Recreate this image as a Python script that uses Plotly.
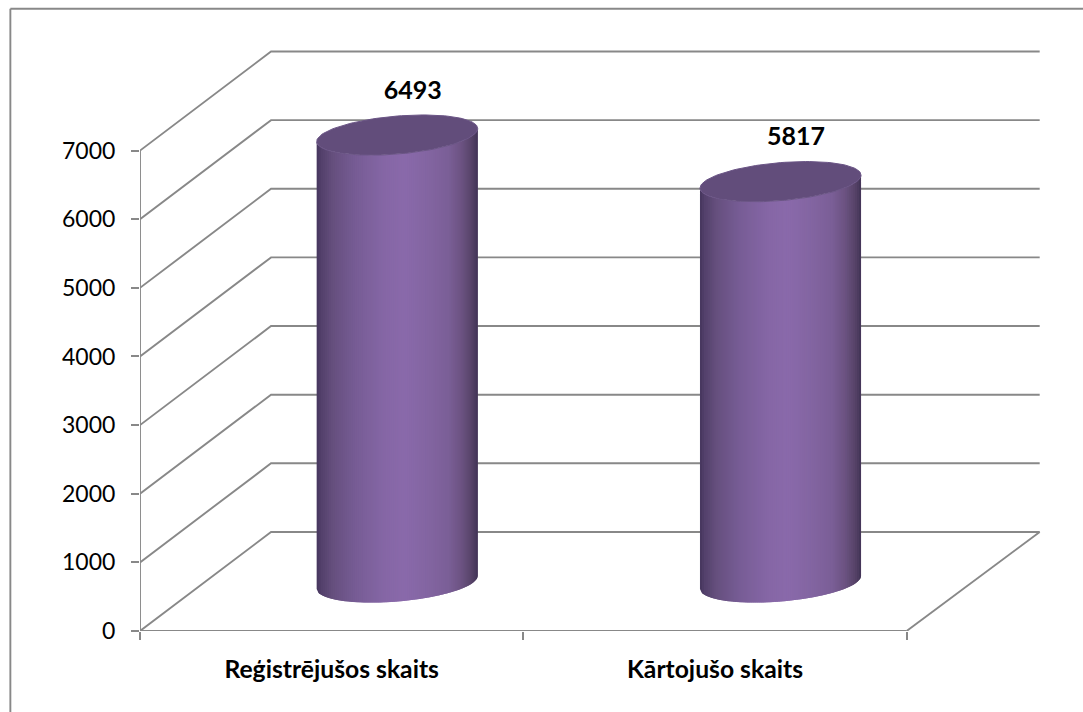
import numpy as np
import plotly.graph_objects as go

categories = ["Reģistrējušos skaits", "Kārtojušo skaits"]
values = [6493, 5817]
y_ticks = [0, 1000, 2000, 3000, 4000, 5000, 6000, 7000]

W, H = 1083, 712
X0, Y0 = 140.3, 630.7          # pixel of origin
PX_X = (906.7 - X0) / 2        # px per category
PX_Y = 68.6 / 1000             # px per value unit
DEPTH_X, DEPTH_Y = 131.0, 99.0 # px shift of the chart's depth
GRID = "#888888"
GW = 1.9
TOP = "#624d7b"
FONT = "Lato"

def dx(px): return px / PX_X
def dy(px): return px / PX_Y

fig = go.Figure()

def line(xs, ys, w=GW, c=GRID):
    fig.add_trace(go.Scatter(x=xs, y=ys, mode="lines", line=dict(color=c, width=w),
                             hoverinfo="skip", showlegend=False, cliponaxis=False))

n_cat = len(categories)
# back wall, side wall, floor
for v in y_ticks:
    line([0, dx(DEPTH_X), n_cat + dx(DEPTH_X + 2)],
         [v, v + dy(DEPTH_Y), v + dy(DEPTH_Y)])
line([n_cat, n_cat + dx(DEPTH_X + 2)], [0, dy(DEPTH_Y)])
line([0, n_cat], [0, 0])
line([0, 0], [0, y_ticks[-1]])

# cylinders
R_PX = 80.5
TILT = 6.5
MINOR = 19.0
STOPS_T = [0.0, 0.03, 0.10, 0.25, 0.42, 0.55, 0.70, 0.82, 0.90, 0.96, 1.0]
STOPS_R = [70, 84, 102, 120, 134, 138, 131, 123, 108, 88, 66]
STOPS_G = [54, 65, 80, 93, 103, 106, 101, 95, 83, 68, 52]
STOPS_B = [94, 108, 126, 150, 166, 171, 161, 151, 130, 106, 86]
H_FACTOR = 1.004               # cylinder height vs. axis scale
BASE_DEPTH = 0.49

def ell(cx, cyv, theta):
    x = cx + dx(R_PX * np.cos(theta))
    y = cyv + dy(TILT * np.cos(theta) + MINOR * np.sin(theta))
    return x, y

for i, (cat, v) in enumerate(zip(categories, values)):
    cx = i + 0.5 + dx(DEPTH_X * 0.5)
    base = dy(DEPTH_Y * BASE_DEPTH)
    top = base + v * H_FACTOR
    edges = np.linspace(-1, 1, 81)
    for k in range(len(edges) - 1):
        t = (edges[k] + edges[k + 1] + 2) / 4
        col = "rgb(%d,%d,%d)" % (np.interp(t, STOPS_T, STOPS_R),
                                 np.interp(t, STOPS_T, STOPS_G),
                                 np.interp(t, STOPS_T, STOPS_B))
        e1 = edges[k]
        e2 = edges[min(k + 2, len(edges) - 1)]   # overlap to hide seams
        th = 2 * np.pi - np.arccos(np.linspace(e1, e2, 6))
        xb, yb = ell(cx, base, th)
        xt, yt = ell(cx, top, th[::-1])
        fig.add_trace(go.Scatter(x=np.r_[xb, xt], y=np.r_[yb, yt], mode="lines", fill="toself",
                                 fillcolor=col, line=dict(width=0, color=col),
                                 hoverinfo="skip", showlegend=False))
    th = np.linspace(0, 2 * np.pi, 121)
    xe, ye = ell(cx, top, th)
    fig.add_trace(go.Scatter(x=xe, y=ye, mode="lines", fill="toself", fillcolor=TOP,
                             line=dict(width=1, color="#6b5586"),
                             hoverinfo="skip", showlegend=False))

# data labels
fig.add_trace(go.Scatter(
    x=[i + 0.5 + dx(DEPTH_X * 0.5 + 15.5) for i in range(n_cat)],
    y=[dy(DEPTH_Y * BASE_DEPTH) + v * H_FACTOR + dy(42.5) for v in values],
    mode="text", text=[str(v) for v in values],
    textposition="middle center",
    textfont=dict(family=FONT, size=25, color="black", weight="bold"),
    hoverinfo="skip", showlegend=False))

fig.update_layout(
    width=W, height=H, autosize=False,
    margin=dict(l=X0, r=0, t=0, b=H - Y0, pad=0, autoexpand=False),
    paper_bgcolor="white", plot_bgcolor="white",
    showlegend=False,
    xaxis=dict(range=[0, (W - X0) / PX_X], showgrid=False, zeroline=False, showline=False,
               tickmode="array", tickvals=[i + 0.5 for i in range(n_cat)], ticktext=categories,
               ticks="outside", ticklen=16, tickcolor="rgba(0,0,0,0)",
               tickfont=dict(family=FONT, size=24.7, color="black", weight="bold"),
               minor=dict(tickmode="array", tickvals=list(range(n_cat + 1)), ticks="outside",
                          ticklen=8, tickwidth=GW, tickcolor=GRID)),
    yaxis=dict(range=[0, Y0 / PX_Y], showgrid=False, zeroline=False, showline=False,
               tickmode="array", tickvals=y_ticks, ticktext=[str(t) for t in y_ticks],
               ticks="outside", ticklen=8, tickwidth=GW, tickcolor=GRID, ticklabelstandoff=11,
               tickfont=dict(family=FONT, size=23, color="black")),
    shapes=[
        dict(type="line", xref="paper", yref="paper", x0=(10.7 - X0) / (W - X0), x1=1.0,
             y0=1 - 8.7 / Y0, y1=1 - 8.7 / Y0, line=dict(color=GRID, width=GW)),
        dict(type="line", xref="paper", yref="paper", x0=(10.7 - X0) / (W - X0), x1=(10.7 - X0) / (W - X0),
             y0=1 - 8.7 / Y0, y1=1 - H / Y0, line=dict(color=GRID, width=GW)),
    ],
)
fig.write_html("out.html", post_script="document.body.style.margin='0';",
               config={"displayModeBar": False})
